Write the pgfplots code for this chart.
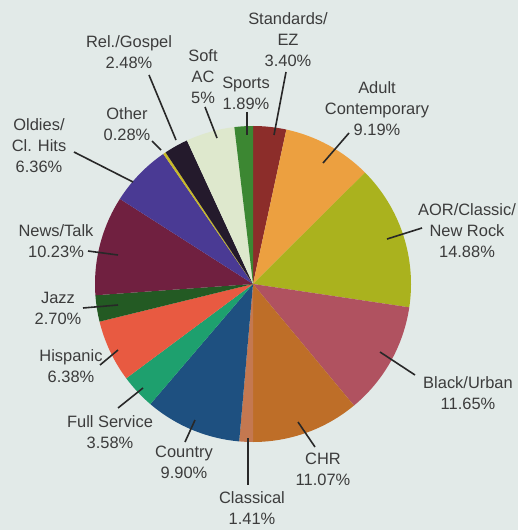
\documentclass[border=0pt]{standalone}
\usepackage{pgfplots}
\pgfplotsset{compat=1.18}
\usepackage{fontspec}
\setmainfont{Liberation Sans}
\definecolor{bg}{RGB}{226,234,232}
\definecolor{txt}{RGB}{60,60,60}
\definecolor{ln}{RGB}{40,40,40}
\definecolor{cStd}{RGB}{140,45,42}
\definecolor{cAdult}{RGB}{236,160,64}
\definecolor{cAOR}{RGB}{170,178,30}
\definecolor{cBlack}{RGB}{176,82,96}
\definecolor{cCHR}{RGB}{190,110,40}
\definecolor{cClass}{RGB}{196,120,80}
\definecolor{cCountry}{RGB}{30,80,128}
\definecolor{cFull}{RGB}{30,160,110}
\definecolor{cHisp}{RGB}{232,90,65}
\definecolor{cJazz}{RGB}{35,90,35}
\definecolor{cNews}{RGB}{112,32,64}
\definecolor{cOldies}{RGB}{74,58,148}
\definecolor{cOther}{RGB}{200,185,40}
\definecolor{cRel}{RGB}{36,26,44}
\definecolor{cSoft}{RGB}{222,232,205}
\definecolor{cSports}{RGB}{60,135,50}
\tikzset{lbl/.style={font=\fontsize{16.5}{21}\selectfont, text=txt, align=center, inner sep=0pt}}
\begin{document}
\begin{tikzpicture}
\begin{axis}[
  width=518bp, height=530bp, scale only axis,
  xmin=0, xmax=518, ymin=0, ymax=530, y dir=reverse,
  axis line style={draw=none}, xtick=\empty, ytick=\empty,
  axis background/.style={fill=bg},
  clip=false,
]
\def\cx{253}\def\cy{284}\def\R{158}\def\T{100.40}
\xdef\acc{0}
\foreach \p/\c in {3.40/cStd, 9.19/cAdult, 14.88/cAOR, 11.65/cBlack, 11.07/cCHR, 1.41/cClass, 9.90/cCountry, 3.58/cFull, 6.38/cHisp, 2.70/cJazz, 10.23/cNews, 6.36/cOldies, 0.28/cOther, 2.48/cRel, 5/cSoft, 1.89/cSports}{
  \pgfmathsetmacro\a{90-(\acc/\T)*360}
  \pgfmathsetmacro\newacc{\acc+\p}
  \xdef\acc{\newacc}
  \pgfmathsetmacro\b{90-(\acc/\T)*360}
  \pgfmathsetmacro\xs{\cx+\R*cos(\a)}
  \pgfmathsetmacro\ys{\cy-\R*sin(\a)}
  \edef\tmp{\noexpand\fill[\c] (axis cs:\cx,\cy) -- (axis cs:\xs,\ys) arc[start angle=\a, end angle=\b, radius=\R bp] -- cycle;}
  \tmp
}
% leader lines
\draw[ln, line width=1.6bp] (axis cs:286,72) -- (axis cs:274,135);
\draw[ln, line width=1.6bp] (axis cs:247,112) -- (axis cs:247,135);
\draw[ln, line width=1.6bp] (axis cs:205,107) -- (axis cs:217,138);
\draw[ln, line width=1.6bp] (axis cs:149,75) -- (axis cs:176,140);
\draw[ln, line width=1.6bp] (axis cs:152,141) -- (axis cs:161,150);
\draw[ln, line width=1.6bp] (axis cs:74,152) -- (axis cs:133,182);
\draw[ln, line width=1.6bp] (axis cs:349,133) -- (axis cs:323,163);
\draw[ln, line width=1.6bp] (axis cs:422,228) -- (axis cs:387,239);
\draw[ln, line width=1.6bp] (axis cs:415,375) -- (axis cs:380,352);
\draw[ln, line width=1.6bp] (axis cs:315,447) -- (axis cs:298,422);
\draw[ln, line width=1.6bp] (axis cs:248,438) -- (axis cs:248,485);
\draw[ln, line width=1.6bp] (axis cs:185,442) -- (axis cs:195,420);
\draw[ln, line width=1.6bp] (axis cs:118,408) -- (axis cs:143,388);
\draw[ln, line width=1.6bp] (axis cs:100,365) -- (axis cs:118,350);
\draw[ln, line width=1.6bp] (axis cs:83,308) -- (axis cs:118,305);
\draw[ln, line width=1.6bp] (axis cs:88,251) -- (axis cs:118,255);
% labels
\node[lbl] at (axis cs:288,40) {Standards/\\EZ\\3.40\%};
\node[lbl] at (axis cs:377,109) {Adult\\Contemporary\\9.19\%};
\node[lbl] at (axis cs:467,231) {AOR/Classic/\\New Rock\\14.88\%};
\node[lbl] at (axis cs:468,393) {Black/Urban\\11.65\%};
\node[lbl] at (axis cs:323,469) {CHR\\11.07\%};
\node[lbl] at (axis cs:252,508) {Classical\\1.41\%};
\node[lbl] at (axis cs:184,462) {Country\\9.90\%};
\node[lbl] at (axis cs:110,432) {Full Service\\3.58\%};
\node[lbl] at (axis cs:71,366) {Hispanic\\6.38\%};
\node[lbl] at (axis cs:58,308) {Jazz\\2.70\%};
\node[lbl] at (axis cs:56,241) {News/Talk\\10.23\%};
\node[lbl] at (axis cs:39,146) {Oldies/\\Cl. Hits\\6.36\%};
\node[lbl] at (axis cs:127,124) {Other\\0.28\%};
\node[lbl] at (axis cs:129,52) {Rel./Gospel\\2.48\%};
\node[lbl] at (axis cs:203,77) {Soft\\AC\\5\%};
\node[lbl] at (axis cs:246,93) {Sports\\1.89\%};
\end{axis}
\pgfresetboundingbox
\useasboundingbox (current axis.south west) rectangle (current axis.north east);
\end{tikzpicture}
\end{document}
